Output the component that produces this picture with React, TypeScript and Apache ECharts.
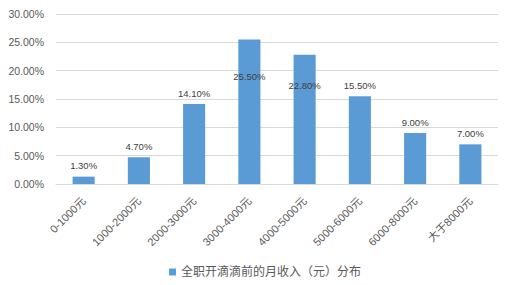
import React, { useEffect, useRef } from "react";
import * as echarts from "echarts";

const categories = ["0-1000元", "1000-2000元", "2000-3000元", "3000-4000元", "4000-5000元", "5000-6000元", "6000-8000元", "大于8000元"];
const values = [1.3, 4.7, 14.1, 25.5, 22.8, 15.5, 9.0, 7.0];
const seriesName = "全职开滴滴前的月收入（元）分布";

const FONT = '"Liberation Sans", "Noto Sans CJK SC", sans-serif';

export default function App() {
  const ref = useRef<HTMLDivElement>(null);
  useEffect(() => {
    document.body.style.margin = "0";
    if (!ref.current) return;
    const chart = echarts.init(ref.current, undefined, { renderer: "svg" });
    const labelShift: Record<number, number> = { 3: 48, 4: 41 };
    chart.setOption({
      animation: false,
      backgroundColor: "#ffffff",
      grid: { left: 56, right: 14, top: 14, bottom: 101 },
      legend: {
        data: [seriesName],
        left: 164,
        top: 261,
        icon: "rect",
        itemWidth: 7,
        itemHeight: 7,
        itemGap: 4,
        textStyle: { fontSize: 12, color: "#595959", fontFamily: FONT },
      },
      xAxis: {
        type: "category",
        data: categories,
        axisTick: { show: false },
        axisLine: { lineStyle: { color: "#d9d9d9" } },
        axisLabel: { rotate: 45, fontSize: 11, color: "#595959", margin: 15, fontFamily: FONT, interval: 0 },
      },
      yAxis: {
        type: "value",
        min: 0,
        max: 30,
        interval: 5,
        axisLine: { show: false },
        axisTick: { show: false },
        splitLine: { lineStyle: { color: "#d9d9d9" } },
        axisLabel: {
          fontSize: 10.5,
          color: "#595959",
          margin: 12,
          fontFamily: FONT,
          formatter: (v: number) => v.toFixed(2) + "%",
        },
      },
      series: [
        {
          name: seriesName,
          type: "bar",
          barWidth: "40%",
          itemStyle: { color: "#5b9bd5" },
          data: values.map((v, i) => ({
            value: v,
            label: labelShift[i] ? { offset: [0, labelShift[i]] } : undefined,
          })),
          label: {
            show: true,
            position: "top",
            distance: 6,
            fontSize: 9.5,
            color: "#404040",
            fontFamily: FONT,
            formatter: (p: any) => Number(p.value).toFixed(2) + "%",
          },
        },
      ],
    });
    return () => chart.dispose();
  }, []);
  return <div ref={ref} style={{ width: 512, height: 285 }} />;
}
